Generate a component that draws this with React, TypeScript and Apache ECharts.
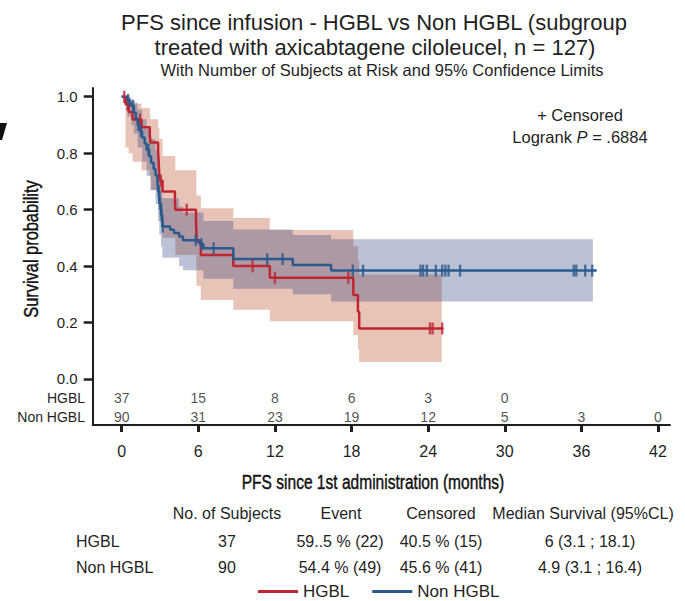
import React, { useEffect, useRef } from "react";
import * as echarts from "echarts";

// Axis ticks
const MONTH_TICKS = [0, 6, 12, 18, 24, 30, 36, 42];
const PROB_TICKS = [0, 0.2, 0.4, 0.6, 0.8, 1.0];

// Kaplan-Meier steps: [month, survival after the event]
const KM_HGBL = [
  [0, 1], [0.3, 0.973], [0.55, 0.946], [0.85, 0.919], [1.55, 0.892], [2.2, 0.865],
  [2.25, 0.838], [2.85, 0.811], [2.88, 0.784], [2.91, 0.757], [2.94, 0.73], [2.97, 0.703],
  [3.2, 0.664], [4.17, 0.632], [4.2, 0.6], [5.82, 0.56], [5.85, 0.52], [5.88, 0.486],
  [6.2, 0.439], [8.74, 0.4], [11.6, 0.359], [18.14, 0.298], [18.5, 0.238], [18.6, 0.179],
  [25.2, 0.179],
];
const KM_NON_HGBL = [
  [0, 1], [0.45, 0.989], [0.6, 0.978], [0.75, 0.967], [0.95, 0.944], [1.1, 0.922],
  [1.25, 0.9], [1.45, 0.878], [1.6, 0.856], [1.8, 0.834], [1.95, 0.812], [2.15, 0.789],
  [2.3, 0.766], [2.5, 0.744], [2.65, 0.722], [2.8, 0.7], [2.85, 0.666], [2.95, 0.622],
  [3.08, 0.581], [3.18, 0.54], [3.8, 0.529], [4.1, 0.517], [4.5, 0.505], [4.8, 0.492],
  [6.1, 0.478], [6.4, 0.463], [8.74, 0.425], [13.4, 0.404], [16.4, 0.384], [37.2, 0.384],
];

// Censoring times (months)
const CENSOR_HGBL = [0.2, 0.45, 1.43, 3.07, 5.09, 10.25, 12.0, 17.75, 24.14, 24.35, 25.1];
const CENSOR_NON_HGBL = [
  0.5, 0.9, 1.3, 1.5, 2.1, 2.9, 3.0, 3.13, 3.22, 5.8, 6.25, 7.2, 11.4, 12.6, 18.1, 18.9,
  23.4, 23.6, 23.9, 24.6, 25.1, 25.35, 25.6, 26.5, 35.4, 35.6, 36.3, 36.85,
];

// 95% confidence limits: [month, lower, upper]
const CL_HGBL = [
  [0, 1, 1], [0.3, 0.82, 1.0], [0.55, 0.8, 0.99], [0.85, 0.77, 0.975], [1.55, 0.74, 0.96],
  [2.2, 0.71, 0.94], [2.25, 0.67, 0.92], [2.85, 0.62, 0.89], [2.95, 0.56, 0.85],
  [3.2, 0.5, 0.79], [4.2, 0.44, 0.74], [5.85, 0.33, 0.65], [6.2, 0.28, 0.605],
  [8.74, 0.245, 0.57], [11.6, 0.205, 0.528], [18.14, 0.155, 0.47], [18.5, 0.105, 0.42],
  [18.6, 0.06, 0.37], [25.06, 0.06, 0.37],
];
const CL_NON_HGBL = [
  [0, 1, 1], [0.45, 0.93, 1.0], [0.75, 0.9, 0.99], [0.95, 0.87, 0.98], [1.25, 0.82, 0.955],
  [1.6, 0.77, 0.92], [1.95, 0.72, 0.885], [2.3, 0.67, 0.85], [2.65, 0.62, 0.81],
  [2.85, 0.56, 0.76], [2.95, 0.51, 0.72], [3.08, 0.47, 0.68], [3.18, 0.43, 0.64],
  [4.5, 0.4, 0.61], [4.8, 0.385, 0.59], [6.4, 0.355, 0.56], [8.74, 0.32, 0.53],
  [13.4, 0.3, 0.51], [16.4, 0.275, 0.495], [36.9, 0.275, 0.495],
];

// Number of subjects at risk at each month tick
const AT_RISK_HGBL = [37, 15, 8, 6, 3, 0];
const AT_RISK_NON_HGBL = [90, 31, 23, 19, 12, 5, 3, 0];

// Summary table
const TABLE_HEADERS = ["No. of Subjects", "Event", "Censored", "Median Survival (95%CL)"];
const TABLE_ROWS = [
  ["HGBL", "37", "59..5 % (22)", "40.5 % (15)", "6 (3.1 ; 18.1)"],
  ["Non HGBL", "90", "54.4 % (49)", "45.6 % (41)", "4.9 (3.1 ; 16.4)"],
];

const FONT = '"Liberation Sans", Arial, Helvetica, sans-serif';
const INK = "#1f1f1f";
const RED = "#bf2532";
const BLUE = "#2b5a8c";

function survivalAt(steps: number[][], t: number) {
  let s = steps[0][1];
  for (const [ti, si] of steps) {
    if (ti <= t) s = si;
    else break;
  }
  return s;
}

function bandPoints(rows: number[][], api: any) {
  const upper: number[][] = [];
  const lower: number[][] = [];
  for (let i = 0; i < rows.length; i++) {
    const [t, lo, hi] = rows[i];
    const next = i + 1 < rows.length ? rows[i + 1][0] : t;
    upper.push(api.coord([t, hi]), api.coord([next, hi]));
    lower.push(api.coord([t, lo]), api.coord([next, lo]));
  }
  return upper.concat(lower.reverse());
}

function txt(text: string, x: number, y: number, size: number, align = "center", extra: any = {}) {
  const { style, ...rest } = extra;
  return {
    type: "text",
    x,
    y,
    silent: true,
    ...rest,
    style: {
      text,
      fontSize: size,
      fontFamily: FONT,
      fill: INK,
      textAlign: align,
      textVerticalAlign: "middle",
      ...(style || {}),
    },
  };
}

// Condensed look for the axis titles
const AXIS_TITLE_STYLE = { fill: "#111", stroke: "#111", lineWidth: 0.45 };

export default function App() {
  const ref = useRef<HTMLDivElement>(null);

  useEffect(() => {
    if (!ref.current) return;
    const chart = echarts.init(ref.current, null, { renderer: "svg" });

    const riskRowY = [-0.067, -0.135];
    const riskData = (counts: number[], y: number) =>
      counts.map((n, i) => [MONTH_TICKS[i], y, n]);

    const tableCols = [227, 340, 441, 590];
    const tableHeaderCols = [227, 341, 441, 583];
    const graphic: any[] = [
      txt("PFS since infusion - HGBL vs Non HGBL (subgroup", 374, 22, 22),
      txt("treated with axicabtagene ciloleucel, n = 127)", 375, 47, 22),
      txt("With Number of Subjects at Risk and 95% Confidence Limits", 382, 70, 16.5),
      txt("+ Censored", 580, 115, 16.5),
      {
        type: "text",
        x: 580,
        y: 137,
        silent: true,
        style: {
          text: "{n|Logrank }{i|P}{n| = .6884}",
          textAlign: "center",
          textVerticalAlign: "middle",
          rich: {
            n: { fontSize: 16.5, fontFamily: FONT, fill: INK },
            i: { fontSize: 16.5, fontFamily: FONT, fill: INK, fontStyle: "italic" },
          },
        },
      },
      txt("HGBL", 85, 398, 14, "right"),
      txt("Non HGBL", 85, 417, 14, "right"),
      txt("PFS since 1st administration (months)", 373, 482, 21, "center", {
        scaleX: 0.74,
        style: AXIS_TITLE_STYLE,
      }),
      txt("Survival probability", 31, 249, 21, "center", {
        rotation: Math.PI / 2,
        scaleX: 0.78,
        style: AXIS_TITLE_STYLE,
      }),
      {
        type: "polygon",
        silent: true,
        shape: { points: [[0, 123], [7, 123], [2, 140], [0, 140]] },
        style: { fill: "#111" },
      },
    ];
    TABLE_HEADERS.forEach((h, i) => graphic.push(txt(h, tableHeaderCols[i], 513, 16)));
    TABLE_ROWS.forEach((row, r) => {
      const y = 541 + r * 26;
      graphic.push(txt(row[0], 76, y, 16, "left"));
      row.slice(1).forEach((cell, c) => graphic.push(txt(cell, tableCols[c], y, 16)));
    });

    const band = (name: string, rows: number[][], fill: string) => ({
      type: "custom",
      name,
      silent: true,
      z: 1,
      data: [[0, 0]],
      renderItem: (_p: any, api: any) => ({
        type: "polygon",
        shape: { points: bandPoints(rows, api) },
        style: { fill },
      }),
    });

    const censors = (name: string, times: number[], steps: number[][], color: string) => ({
      type: "scatter",
      name,
      silent: true,
      z: 4,
      symbol: "rect",
      symbolSize: [2.4, 12],
      itemStyle: { color },
      data: times.map((t) => [t, survivalAt(steps, t)]),
    });

    const risk = (name: string, counts: number[], y: number) => ({
      type: "scatter",
      name,
      silent: true,
      symbolSize: 1,
      itemStyle: { color: "rgba(0,0,0,0)" },
      label: {
        show: true,
        position: "inside",
        formatter: (p: any) => String(p.value[2]),
        fontSize: 14,
        fontFamily: FONT,
        color: INK,
      },
      data: riskData(counts, y),
    });

    chart.setOption({
      animation: false,
      textStyle: { fontFamily: FONT },
      grid: {
        left: 92.7,
        top: 88,
        width: 577.3,
        height: 337,
        containLabel: false,
        outerBoundsMode: "none",
      },
      xAxis: {
        type: "value",
        min: -2.27,
        max: 42.94,
        axisLine: { show: true, onZero: false, lineStyle: { color: INK, width: 2 } },
        axisTick: { show: true, customValues: MONTH_TICKS, length: 7, lineStyle: { color: INK, width: 3 } },
        axisLabel: { customValues: MONTH_TICKS, fontSize: 16, color: INK, margin: 18, fontFamily: FONT },
        splitLine: { show: false },
      },
      yAxis: {
        type: "value",
        min: -0.163,
        max: 1.031,
        axisLine: { show: true, onZero: false, lineStyle: { color: INK, width: 2 } },
        axisTick: { show: true, customValues: PROB_TICKS, length: 9, lineStyle: { color: INK, width: 2.5 } },
        axisLabel: {
          customValues: PROB_TICKS,
          formatter: (v: number) => v.toFixed(1),
          fontSize: 15,
          color: INK,
          margin: 15,
          fontFamily: FONT,
        },
        splitLine: { show: false },
      },
      legend: {
        data: ["HGBL", "Non HGBL"],
        left: 258,
        top: 583,
        padding: 0,
        icon: "rect",
        itemWidth: 40,
        itemHeight: 3,
        itemGap: 23,
        selectedMode: false,
        textStyle: { fontSize: 17, color: INK, fontFamily: FONT },
      },
      graphic,
      series: [
        band("HGBL 95% CL", CL_HGBL, "rgba(189,86,52,0.35)"),
        band("Non HGBL 95% CL", CL_NON_HGBL, "rgba(32,52,115,0.3)"),
        {
          type: "line",
          name: "HGBL",
          step: "end",
          symbol: "none",
          z: 3,
          lineStyle: { color: RED, width: 2.5 },
          itemStyle: { color: RED },
          data: KM_HGBL,
        },
        {
          type: "line",
          name: "Non HGBL",
          step: "end",
          symbol: "none",
          z: 3,
          lineStyle: { color: BLUE, width: 2.5 },
          itemStyle: { color: BLUE },
          data: KM_NON_HGBL,
        },
        censors("HGBL censored", CENSOR_HGBL, KM_HGBL, RED),
        censors("Non HGBL censored", CENSOR_NON_HGBL, KM_NON_HGBL, BLUE),
        risk("HGBL at risk", AT_RISK_HGBL, riskRowY[0]),
        risk("Non HGBL at risk", AT_RISK_NON_HGBL, riskRowY[1]),
      ],
    });

    return () => chart.dispose();
  }, []);

  return (
    <div
      ref={ref}
      style={{ position: "fixed", left: 0, top: 0, width: 685, height: 601, background: "#fff" }}
    />
  );
}
